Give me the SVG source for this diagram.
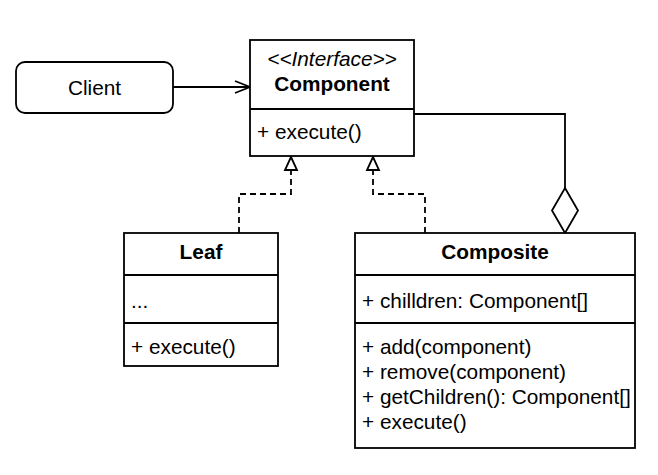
<svg xmlns="http://www.w3.org/2000/svg" width="658" height="475" viewBox="0 0 658 475">
<defs>
<style>
.box{fill:#ffffff;stroke:#000000;stroke-width:1.8}
.ln{fill:none;stroke:#000000;stroke-width:1.8}
.dash{fill:none;stroke:#000000;stroke-width:1.8;stroke-dasharray:6 4}
.t{font-family:"Liberation Sans",Arial,sans-serif;font-size:20.8px;fill:#000000}
.b{font-weight:bold}
.i{font-style:italic}
.c{text-anchor:middle}
</style>
</defs>
<rect width="658" height="475" fill="#ffffff"/>
<g id="connectors">
<path class="ln" d="M173 87 H249"/>
<path class="ln" d="M235 81 L250 87 L235 93"/>
<path class="dash" d="M239 233 V194 H291 V170"/>
<path class="box" d="M291 157 L297 170 L285 170 Z"/>
<path class="dash" d="M425 233 V194 H373 V170"/>
<path class="box" d="M373 157 L379 170 L367 170 Z"/>
<path class="ln" d="M414 114 H565 V188"/>
<path class="box" d="M565 188 L578 210.5 L565 233 L552 210.5 Z"/>
</g>
<g id="client">
<rect class="box" x="16" y="62" width="157" height="51" rx="9"/>
<text class="t c" x="94.5" y="94.5">Client</text>
</g>
<g id="component">
<rect class="box" x="250" y="40" width="164" height="116"/>
<path class="ln" d="M250 109 H414"/>
<text class="t c i" x="332" y="65.5">&lt;&lt;Interface&gt;&gt;</text>
<text class="t c b" x="332" y="90.5">Component</text>
<text class="t" x="257" y="138.5">+ execute()</text>
</g>
<g id="leaf">
<rect class="box" x="124" y="233" width="154" height="133"/>
<path class="ln" d="M124 275 H278 M124 323 H278"/>
<text class="t c b" x="201" y="258.5">Leaf</text>
<text class="t" x="131" y="307.5">...</text>
<text class="t" x="131" y="353.5">+ execute()</text>
</g>
<g id="composite">
<rect class="box" x="355" y="233" width="280" height="215"/>
<path class="ln" d="M355 275 H635 M355 323 H635"/>
<text class="t c b" x="495" y="258.5">Composite</text>
<text class="t" x="362" y="307.5">+ chilldren: Component[]</text>
<text class="t" x="362" y="353.5">+ add(component)</text>
<text class="t" x="362" y="378.5">+ remove(component)</text>
<text class="t" x="362" y="403.5">+ getChildren(): Component[]</text>
<text class="t" x="362" y="428.5">+ execute()</text>
</g>
</svg>
